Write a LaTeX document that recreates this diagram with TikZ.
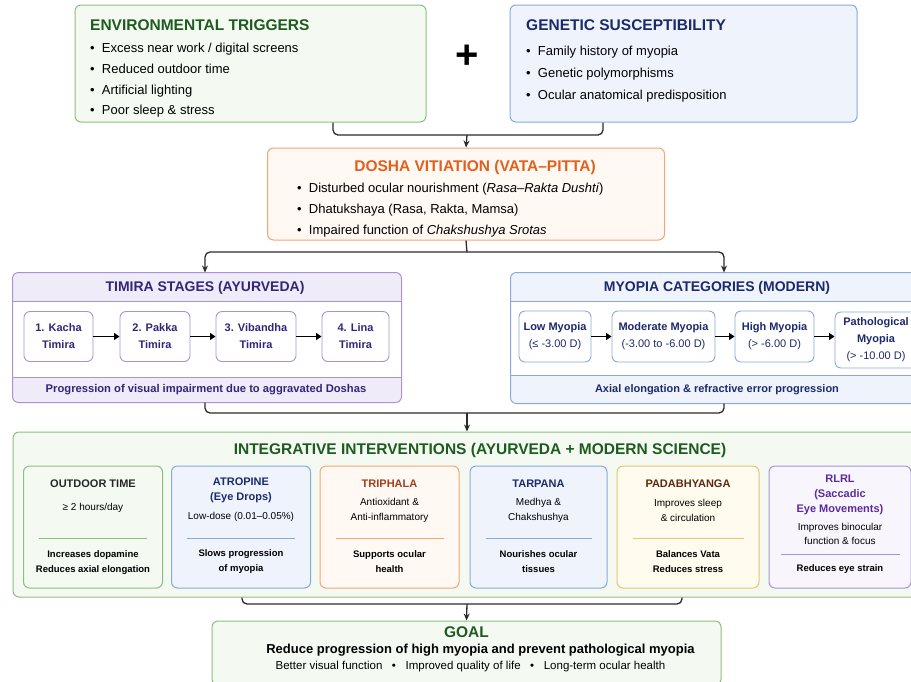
\documentclass[tikz,border=0pt]{standalone}
\usepackage{fontspec}
\setmainfont{Liberation Sans}
\usepackage{tikz}
\usetikzlibrary{arrows.meta,positioning,calc}
\definecolor{EnvLine}{HTML}{8CBF7F}
\definecolor{EnvFill}{HTML}{F4FAF2}
\definecolor{EnvTitle}{HTML}{1E5B20}
\definecolor{GenLine}{HTML}{8AA9D8}
\definecolor{GenFill}{HTML}{EFF4FC}
\definecolor{GenTitle}{HTML}{1C2A6B}
\definecolor{DosLine}{HTML}{F2A673}
\definecolor{DosFill}{HTML}{FFF8F3}
\definecolor{DosTitle}{HTML}{E2601C}
\definecolor{TimLine}{HTML}{A993D6}
\definecolor{TimHead}{HTML}{F0EBF9}
\definecolor{TimTitle}{HTML}{352577}
\definecolor{TriTitle}{HTML}{A23E1A}
\definecolor{PadLine}{HTML}{E8C46E}
\definecolor{PadFill}{HTML}{FFFBEF}
\definecolor{PadTitle}{HTML}{5B2A12}
\definecolor{RlrlFill}{HTML}{F8F5FC}
\definecolor{RlrlTitle}{HTML}{5B2C9C}
\definecolor{InkGrey}{HTML}{2B2B2B}

\begin{document}
\begin{tikzpicture}[
    x=1pt, y=-1pt,
    panel/.style={
      draw=#1,
      line width=1pt,
      rounded corners=6pt,
      inner sep=0pt
    },
    stage/.style={
      draw=#1,
      fill=white,
      line width=0.9pt,
      rounded corners=6pt,
      minimum height=50pt,
      align=center,
      inner sep=0pt,
      font=\fontsize{11}{17}\selectfont\bfseries
    },
    ttl/.style={
      inner sep=0pt,
      font=\fontsize{15.5}{18}\selectfont\bfseries
    },
    subttl/.style={
      inner sep=0pt,
      font=\fontsize{14}{17}\selectfont\bfseries
    },
    lst/.style={
      inner sep=0pt,
      align=left,
      font=\fontsize{13}{20.7}\selectfont
    },
    ivttl/.style={
      inner sep=0pt,
      align=center,
      font=\fontsize{11}{14.5}\selectfont\bfseries
    },
    ivtxt/.style={
      inner sep=0pt,
      align=center,
      font=\fontsize{10}{15}\selectfont
    },
    ivbold/.style={
      inner sep=0pt,
      align=center,
      font=\fontsize{9.5}{15}\selectfont\bfseries
    },
    sepline/.style={draw=#1, line width=0.9pt},
    conn/.style={
      draw=InkGrey,
      line width=1.3pt,
      rounded corners=5pt
    },
    arr/.style={
      conn,
      -{Stealth[length=7pt,width=6pt]}
    },
    sarr/.style={
      draw=black,
      line width=1.6pt,
      -{Triangle[length=5.5pt,width=7pt]}
    }
  ]
  \useasboundingbox (0,0) rectangle (911,681);

  % Causes
  \node[panel=EnvLine, fill=EnvFill, minimum width=351pt, minimum height=117pt] (env) at (250.5,63.5) {};
  \node[ttl, text=EnvTitle, anchor=west] (envT) at (90,25) {ENVIRONMENTAL TRIGGERS};
  \node[lst, anchor=north west] (envL) at (90,43) {\textbullet\ \ Excess near work / digital screens\\
    \textbullet\ \ Reduced outdoor time\\
    \textbullet\ \ Artificial lighting\\
    \textbullet\ \ Poor sleep \& stress};

  \node[font=\fontsize{40}{40}\selectfont\bfseries, inner sep=0pt] (plus) at (467,57) {+};

  \node[panel=GenLine, fill=GenFill, minimum width=347pt, minimum height=117pt] (gen) at (683.5,63.5) {};
  \node[ttl, text=GenTitle, anchor=west] (genT) at (526,25) {GENETIC SUSCEPTIBILITY};
  \node[lst, anchor=north west, font=\fontsize{13}{22}\selectfont] (genL) at (526,45.5) {\textbullet\ \ Family history of myopia\\
    \textbullet\ \ Genetic polymorphisms\\
    \textbullet\ \ Ocular anatomical predisposition};

  % Dosha
  \node[panel=DosLine, fill=DosFill, minimum width=397pt, minimum height=92pt] (dosha) at (466,194) {};
  \node[ttl, text=DosTitle] (doshaT) at (475,167) {DOSHA VITIATION (VATA--PITTA)};
  \node[lst, anchor=north west] (doshaL) at (297,183) {\textbullet\ \ Disturbed ocular nourishment (\textit{Rasa--Rakta Dushti})\\
    \textbullet\ \ Dhatukshaya (Rasa, Rakta, Mamsa)\\
    \textbullet\ \ Impaired function of \textit{Chakshushya Srotas}};

  % Timira stages
  \node[panel=TimLine, fill=TimHead, draw=none, minimum width=388pt, minimum height=129pt] (tim) at (207,337.5) {};
  \fill[white] ([yshift=-29]tim.north west) rectangle ([yshift=25]tim.south east);
  \draw[sepline=TimLine] ([yshift=-29]tim.north west) -- ([yshift=-29]tim.north east);
  \draw[sepline=TimLine] ([yshift=25]tim.south west) -- ([yshift=25]tim.south east);
  \draw[panel=TimLine] (tim.north west) rectangle (tim.south east);
  \node[subttl, text=TimTitle] (timT) at (205,288) {TIMIRA STAGES (AYURVEDA)};
  \node[stage=TimLine, minimum width=69pt, text=TimTitle] (s1) at (58.5,336.5) {1. Kacha\\Timira};
  \node[stage=TimLine, minimum width=70pt, text=TimTitle] (s2) at (155,336.5) {2. Pakka\\Timira};
  \node[stage=TimLine, minimum width=80pt, text=TimTitle] (s3) at (256,336.5) {3. Vibandha\\Timira};
  \node[stage=TimLine, minimum width=67pt, text=TimTitle] (s4) at (355.5,336.5) {4. Lina\\Timira};
  \node[ivttl, text=TimTitle, font=\fontsize{11.2}{14}\selectfont\bfseries] (timF) at (206,389.5) {Progression of visual impairment due to aggravated Doshas};

  % Myopia categories
  \node[panel=GenLine, fill=GenFill, draw=none, minimum width=426pt, minimum height=130pt] (myo) at (724,338) {};
  \fill[white] ([yshift=-29]myo.north west) rectangle ([yshift=28]myo.south east);
  \draw[sepline=GenLine] ([yshift=-29]myo.north west) -- ([yshift=-29]myo.north east);
  \draw[sepline=GenLine] ([yshift=28]myo.south west) -- ([yshift=28]myo.south east);
  \draw[panel=GenLine] (myo.north west) rectangle (myo.south east);
  \node[subttl, text=GenTitle] (myoT) at (717,288) {MYOPIA CATEGORIES (MODERN)};
  \node[stage=GenLine, minimum width=72pt, minimum height=51pt, text=GenTitle] (m1) at (555,336.5) {Low Myopia\\{\mdseries(≤ -3.00 D)}};
  \node[stage=GenLine, minimum width=103pt, minimum height=51pt, text=GenTitle] (m2) at (663.5,336.5) {Moderate Myopia\\{\mdseries(-3.00 to -6.00 D)}};
  \node[stage=GenLine, minimum width=79pt, minimum height=51pt, text=GenTitle] (m3) at (774.5,336.5) {High Myopia\\{\mdseries(> -6.00 D)}};
  \node[stage=GenLine, minimum width=82pt, minimum height=56pt, text=GenTitle] (m4) at (876,340) {Pathological\\Myopia\\{\mdseries(> -10.00 D)}};
  \node[ivttl, text=GenTitle] (myoF) at (717,389.5) {Axial elongation \& refractive error progression};

  % Integrative interventions
  \node[panel=EnvLine, fill=EnvFill, minimum width=908pt, minimum height=165pt] (int) at (467,514.5) {};
  \node[ttl, text=EnvTitle] (intT) at (480,450) {INTEGRATIVE INTERVENTIONS (AYURVEDA + MODERN SCIENCE)};

  \node[panel=EnvLine, fill=EnvFill, minimum width=139pt, minimum height=122pt] (out) at (93,527) {};
  \node[panel=GenLine, fill=GenFill, minimum width=139pt, minimum height=122pt] (atr) at (241,527) {};
  \node[panel=DosLine, fill=DosFill, minimum width=139pt, minimum height=122pt] (tri) at (389.5,527) {};
  \node[panel=GenLine, fill=GenFill, minimum width=137pt, minimum height=122pt] (tar) at (538.5,527) {};
  \node[panel=PadLine, fill=PadFill, minimum width=142pt, minimum height=122pt] (pad) at (688,527) {};
  \node[panel=TimLine, fill=RlrlFill, minimum width=142pt, minimum height=122pt] (rlrl) at (840,527) {};

  \node[ivttl, text=black!85] (outT) at (93,484) {OUTDOOR TIME};
  \node[ivtxt] (outD) at (93,508) {≥ 2 hours/day};
  \node[ivbold] (outB) at (93,562.5) {Increases dopamine\\Reduces axial elongation};
  \draw[sepline=EnvLine] ([xshift=16,yshift=-11]out.west) -- ([xshift=-16,yshift=-11]out.east);

  \node[ivttl, text=GenTitle] (atrT) at (241,490.5) {ATROPINE\\(Eye Drops)};
  \node[ivtxt] (atrD) at (241,517) {Low-dose (0.01--0.05\%)};
  \node[ivbold] (atrB) at (241,562) {Slows progression\\of myopia};
  \draw[sepline=GenLine] ([xshift=16,yshift=-11]atr.west) -- ([xshift=-16,yshift=-11]atr.east);

  \node[ivttl, text=TriTitle] (triT) at (389.5,484) {TRIPHALA};
  \node[ivtxt] (triD) at (389.5,510.5) {Antioxidant \&\\Anti-inflammatory};
  \node[ivbold] (triB) at (389.5,561.5) {Supports ocular\\health};
  \draw[sepline=DosLine] ([xshift=16,yshift=-11]tri.west) -- ([xshift=-16,yshift=-11]tri.east);

  \node[ivttl, text=GenTitle] (tarT) at (538.5,484) {TARPANA};
  \node[ivtxt] (tarD) at (538.5,510.5) {Medhya \&\\Chakshushya};
  \node[ivbold] (tarB) at (538.5,561.5) {Nourishes ocular\\tissues};
  \draw[sepline=GenLine] ([xshift=16,yshift=-11]tar.west) -- ([xshift=-16,yshift=-11]tar.east);

  \node[ivttl, text=PadTitle] (padT) at (688,484) {PADABHYANGA};
  \node[ivtxt] (padD) at (688,510.5) {Improves sleep\\\& circulation};
  \node[ivbold] (padB) at (688,562) {Balances Vata\\Reduces stress};
  \draw[sepline=PadLine] ([xshift=16,yshift=-11]pad.west) -- ([xshift=-16,yshift=-11]pad.east);

  \node[ivttl, text=RlrlTitle, font=\fontsize{11}{15}\selectfont\bfseries] (rlrlT) at (840,495) {RLRL\\(Saccadic\\Eye Movements)};
  \node[ivtxt, font=\fontsize{10}{14}\selectfont] (rlrlD) at (840,534) {Improves binocular\\function \& focus};
  \node[ivbold] (rlrlB) at (840,569) {Reduces eye strain};
  \draw[sepline=TimLine] ([xshift=12,yshift=-27]rlrl.west) -- ([xshift=-12,yshift=-27]rlrl.east);

  % Goal
  \node[panel=EnvLine, fill=EnvFill, minimum width=509pt, minimum height=64pt] (goal) at (466.5,653) {};
  \node[ttl, text=EnvTitle] (goalT) at (466.5,632) {GOAL};
  \node[inner sep=0pt, font=\fontsize{13}{15}\selectfont\bfseries] (goalA) at (480.5,650) {Reduce progression of high myopia and prevent pathological myopia};
  \node[inner sep=0pt, font=\fontsize{11.5}{13}\selectfont] (goalB) at (470.5,667) {Better visual function \ \ \textbullet\ \ \ Improved quality of life \ \ \textbullet\ \ \ Long-term ocular health};

  % Connectors
  \coordinate (j1) at (467,135);
  \coordinate (j2) at (467,252);
  \coordinate (j3) at (467,413);
  \coordinate (j4) at (467,604);
  \draw[conn] ([xshift=82.5]env.south) |- (j1);
  \draw[conn] ([xshift=-80.5]gen.south) |- (j1);
  \draw[arr] (j1) -- (dosha.north);
  \draw[conn] (dosha.south) -- (j2);
  \draw[arr] (j2) -| ([xshift=-2]tim.north);
  \draw[arr] (j2) -| (myo.north);
  \draw[conn] ([xshift=-2]tim.south) |- (j3);
  \draw[conn] (myo.south) |- (j3);
  \draw[arr] (j3) -- (int.north);
  \draw[conn] ([xshift=-225]int.south) |- (j4);
  \draw[conn] ([xshift=215]int.south) |- (j4);
  \draw[arr] (j4) -- (goal.north);

  \draw[sarr] (s1) -- (s2);
  \draw[sarr] (s2) -- (s3);
  \draw[sarr] (s3) -- (s4);
  \draw[sarr] (m1) -- (m2);
  \draw[sarr] (m2) -- (m3);
  \draw[sarr] (m3.east) -- (m3.east -| m4.west);

\end{tikzpicture}
\end{document}
